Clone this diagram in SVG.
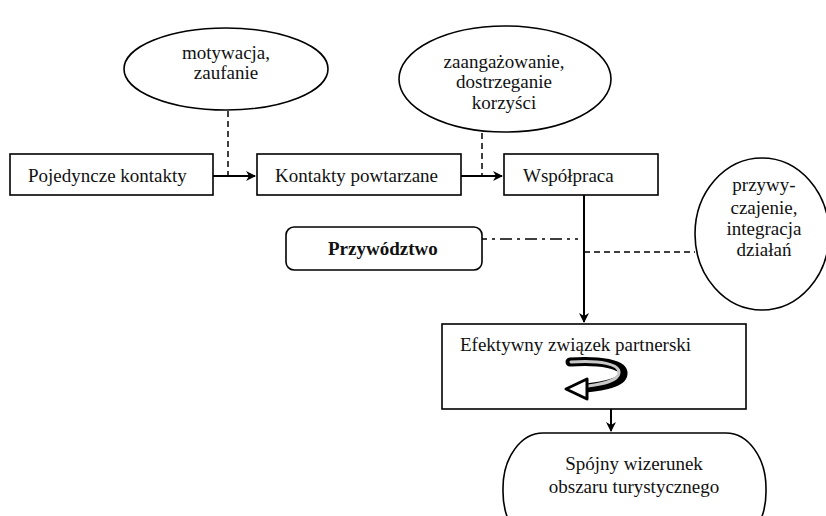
<svg xmlns="http://www.w3.org/2000/svg" width="826" height="516" viewBox="0 0 826 516">
<defs>
<style>
.s{fill:#fff;stroke:#000;stroke-width:1.6}
text{font-family:'Liberation Serif','DejaVu Serif',serif;font-size:19px;fill:#111}
.c{text-anchor:middle}
.b{font-weight:bold}
.a{stroke:#000;stroke-width:2;fill:none}
.d{stroke:#000;stroke-width:1.5;fill:none;stroke-dasharray:6,4}
</style>
<marker id="ah" viewBox="0 0 10 10" refX="9" refY="5" markerWidth="10" markerHeight="10" markerUnits="userSpaceOnUse" orient="auto"><path d="M0,0 L10,5 L0,10 L3,5 Z" fill="#000"/></marker>
</defs>
<rect width="826" height="516" fill="#fff"/>
<g id="connectors">
<line class="d" x1="228" y1="111" x2="228" y2="176"/>
<line class="d" x1="482" y1="133" x2="482" y2="176"/>
<line class="a" x1="213" y1="176" x2="255" y2="176" marker-end="url(#ah)"/>
<line class="a" x1="461" y1="176" x2="502" y2="176" marker-end="url(#ah)"/>
<line class="a" x1="584" y1="195" x2="584" y2="322" marker-end="url(#ah)"/>
<line class="a" x1="611" y1="409" x2="611" y2="431" marker-end="url(#ah)"/>
<line stroke="#000" stroke-width="1.5" stroke-dasharray="12,5,3,5" x1="475" y1="239" x2="578" y2="239"/>
<line class="d" stroke-dasharray="10,6" x1="584" y1="252" x2="695" y2="252"/>
</g>
<g id="e1"><ellipse class="s" cx="226" cy="69" rx="102" ry="41"/>
<text class="c" x="226" y="59">motywacja,</text><text class="c" x="226" y="79">zaufanie</text></g>
<g id="e2"><ellipse class="s" cx="505" cy="79" rx="106" ry="53"/>
<text class="c" x="504" y="68">zaangażowanie,</text><text class="c" x="504" y="88">dostrzeganie</text><text class="c" x="504" y="109">korzyści</text></g>
<g id="e3"><ellipse class="s" cx="762" cy="234" rx="67" ry="76"/>
<text class="c" x="764" y="191">przywy-</text><text class="c" x="764" y="214">czajenie,</text><text class="c" x="764" y="235">integracja</text><text class="c" x="764" y="256">działań</text></g>
<g id="n1"><rect class="s" x="10" y="154" width="203" height="41"/><text x="28" y="182">Pojedyncze kontakty</text></g>
<g id="n2"><rect class="s" x="257" y="154" width="204" height="41"/><text x="275" y="182">Kontakty powtarzane</text></g>
<g id="n3"><rect class="s" x="504" y="154" width="154" height="41"/><text x="523" y="182">Współpraca</text></g>
<g id="n4"><rect class="s" x="286" y="227" width="196" height="43" rx="8"/><text class="b" x="328" y="255">Przywództwo</text></g>
<g id="n5"><rect class="s" x="442" y="324" width="304" height="85"/><text x="460" y="351">Efektywny związek partnerski</text>
<path d="M570,362 C600,360 624,364 623,374 C622,383 603,386 586,388" fill="none" stroke="#000" stroke-width="9" stroke-linecap="round"/>
<path d="M571,362 C600,360 620,364 619,373 C618,381 603,384 588,386" fill="none" stroke="#c8c8c8" stroke-width="3" stroke-linecap="round"/>
<polygon points="566,389 587,379 587,399" fill="#fff" stroke="#000" stroke-width="3" stroke-linejoin="round"/>
</g>
<g id="n6"><rect class="s" x="503" y="433" width="263" height="114" rx="40" ry="55"/>
<text class="c" x="634" y="470">Spójny wizerunek</text><text class="c" x="634" y="493">obszaru turystycznego</text></g>
</svg>
